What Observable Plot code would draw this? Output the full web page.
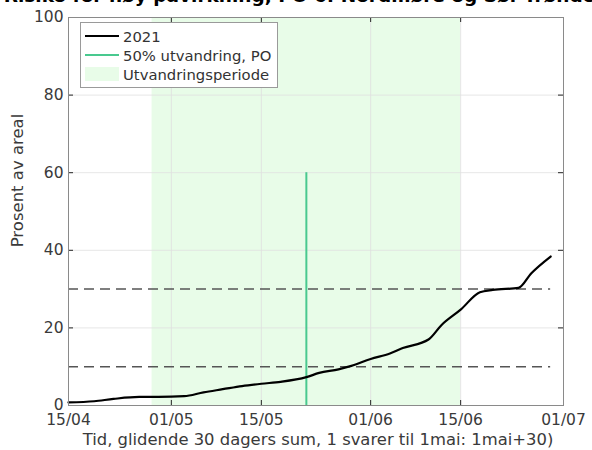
<!DOCTYPE html>
<html>
<head>
<meta charset="utf-8">
<script src="https://cdn.jsdelivr.net/npm/d3@7"></script>
<script src="https://cdn.jsdelivr.net/npm/@observablehq/plot@0.6"></script>
<style>
  body { margin: 0; background: #fff; }
  #wrap { position: relative; width: 592px; height: 450px; overflow: hidden; font-family: "DejaVu Sans", sans-serif; }
  #title { position: absolute; left: 0; width: 631px; top: -13px; text-align: center; font-weight: bold; font-size: 18.5px; line-height: 18px; white-space: nowrap; color: #000; }
  #legend { position: absolute; left: 80px; top: 22px; width: 198px; height: 66px; background: #fff; border: 1px solid #9a9a9a; box-sizing: border-box; font-size: 14.8px; color: #333; }
  .row { position: absolute; left: 4px; height: 18px; display: flex; align-items: center; }
  .row span { margin-left: 4px; }
</style>
</head>
<body>
<div id="wrap">
  <div id="chart"></div>
  <div id="title">Risiko for høy påvirkning, PO 6: Nordmøre og Sør-Trøndelag</div>
  <div id="legend"></div>
</div>
<script>
// ---- data ----
const dates = ["2021-04-15","2021-04-19","2021-04-22","2021-04-26","2021-04-29","2021-05-03","2021-05-06","2021-05-09","2021-05-12","2021-05-15","2021-05-18","2021-05-22","2021-05-24","2021-05-27","2021-05-29","2021-06-01","2021-06-04","2021-06-06","2021-06-10","2021-06-12","2021-06-15","2021-06-18","2021-06-20","2021-06-24","2021-06-26","2021-06-29"];
const values = [0.8,1.1,1.7,2.2,2.2,2.4,3.4,4.2,5.0,5.6,6.1,7.3,8.4,9.3,10.2,12.0,13.4,14.8,17.0,20.7,24.7,29.2,29.8,30.3,34.1,38.4];
const seriesName = "2021";
const migrationStart = "2021-04-28";
const migrationEnd = "2021-06-15";
const halfMigration = "2021-05-22";
const halfMigrationTop = 60;
const thresholds = [10, 30];
const thresholdStart = "2021-04-15";
const thresholdEnd = "2021-06-29";
const xTicks = ["2021-04-15","2021-05-01","2021-05-15","2021-06-01","2021-06-15","2021-07-01"];
const yTicks = [0, 20, 40, 60, 80, 100];
const legendLabels = ["2021", "50% utvandring, PO", "Utvandringsperiode"];
const xLabel = "Tid, glidende 30 dagers sum, 1 svarer til 1mai: 1mai+30)";
const yLabel = "Prosent av areal";

// ---- build ----
const parse = d3.utcParse("%Y-%m-%d");
const line = dates.map((d, i) => ({date: parse(d), value: values[i]}));
const xT = xTicks.map(parse);
const W = 592, H = 450, mt = 17, mr = 29, mb = 45, ml = 68;
const pw = W - ml - mr, ph = H - mt - mb;
const green = "#49c98f";
const shade = "#e8fce8";
const textCol = "#3a3a3a";

const chart = Plot.plot({
  width: W, height: H,
  marginTop: mt, marginRight: mr, marginBottom: mb, marginLeft: ml,
  style: {fontFamily: "DejaVu Sans, sans-serif", fontSize: "14px", color: textCol, background: "#fff"},
  x: {type: "utc", domain: [parse("2021-04-15"), parse("2021-07-01")]},
  y: {domain: [0, 100]},
  marks: [
    Plot.rect([{a: parse(migrationStart), b: parse(migrationEnd)}], {x1: "a", x2: "b", y1: 0, y2: 100, fill: shade}),
    Plot.ruleX(xT, {stroke: "#e0e0e0", strokeWidth: 0.8}),
    Plot.ruleY(yTicks, {stroke: "#e0e0e0", strokeWidth: 0.8}),
    Plot.ruleY(thresholds, {x1: parse(thresholdStart), x2: parse(thresholdEnd), stroke: "#555", strokeWidth: 1.5, strokeDasharray: "10,6"}),
    Plot.ruleX([parse(halfMigration)], {y1: 0, y2: halfMigrationTop, stroke: green, strokeWidth: 2}),
    Plot.line(line, {x: "date", y: "value", stroke: "#000", strokeWidth: 2.2, curve: "monotone-x"}),
    Plot.tickX(xT, {x: d => d, insetTop: ph - 5, stroke: "#262626"}),
    Plot.tickX(xT, {x: d => d, insetBottom: ph - 5, stroke: "#262626"}),
    Plot.tickY(yTicks, {y: d => d, insetRight: pw - 5, stroke: "#262626"}),
    Plot.tickY(yTicks, {y: d => d, insetLeft: pw - 5, stroke: "#262626"}),
    Plot.frame({stroke: "#8a8a8a"}),
    Plot.axisX(xT, {tickSize: 0, tickPadding: 8, tickFormat: d3.utcFormat("%d/%m"), fontSize: 15.5, fill: textCol, label: null}),
    Plot.axisY(yTicks, {tickSize: 0, tickPadding: 5, fontSize: 15.5, fill: textCol, label: null}),
    Plot.text([xLabel], {frameAnchor: "bottom", textAnchor: "middle", lineAnchor: "middle", dx: 2, dy: 34, fontSize: 16.4, fill: textCol}),
    Plot.text([yLabel], {frameAnchor: "left", textAnchor: "middle", lineAnchor: "middle", rotate: -90, dx: -51, dy: -31, fontSize: 16.5, fill: textCol})
  ]
});
document.getElementById("chart").appendChild(chart);

// legend
const lg = document.getElementById("legend");
const sw = [
  `<svg width="34" height="14"><line x1="0" y1="7" x2="34" y2="7" stroke="#000" stroke-width="2.2"/></svg>`,
  `<svg width="34" height="14"><line x1="0" y1="7" x2="34" y2="7" stroke="${green}" stroke-width="2"/></svg>`,
  `<svg width="34" height="14"><rect x="0" y="0" width="34" height="14" fill="${shade}"/></svg>`
];
legendLabels.forEach((t, i) => {
  const r = document.createElement("div");
  r.className = "row";
  r.style.top = (4 + i * 19) + "px";
  r.innerHTML = sw[i] + `<span>${t}</span>`;
  lg.appendChild(r);
});
</script>
</body>
</html>
